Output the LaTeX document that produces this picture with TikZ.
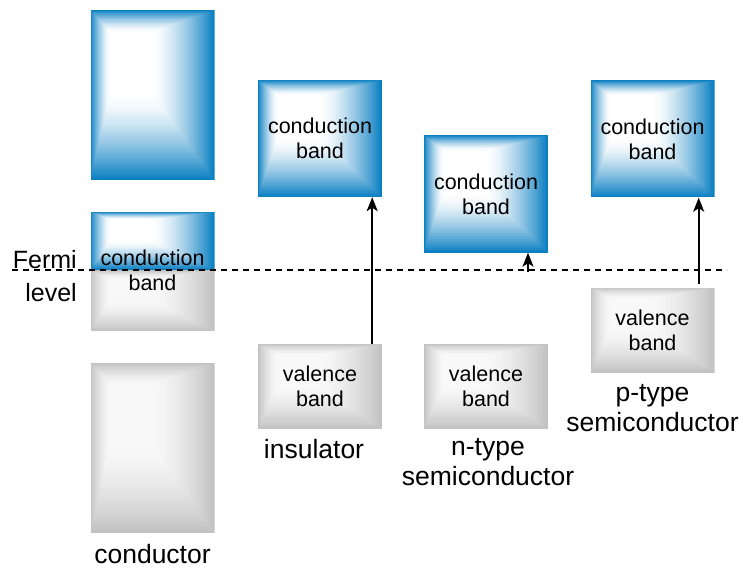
\documentclass[tikz,border=0pt]{standalone}
\usepackage{fontspec}
\setmainfont{Liberation Sans}
\usepackage{tikz}
\usetikzlibrary{positioning,arrows.meta,calc}
\usepackage{xcolor}
\definecolor{bandblue}{HTML}{0A7FC2}
\definecolor{bandgray}{HTML}{C2C2C2}
\definecolor{bandlight}{HTML}{F8F8F8}

% nested rectangles, dark at the rim, light towards the upper left
\newcommand\bandshade[2]{%
  \foreach \k in {0,...,40}{%
    \pgfmathtruncatemacro\pct{100*(1-\k/40)*sqrt(1-\k/40)}
    \fill[#1!\pct!#2] let \p1=(path picture bounding box.north west),
      \p2=(path picture bounding box.south east) in
      ({\x1+0.16*\k/40*(\x2-\x1)}, {\y1-0.13*\k/40*(\y1-\y2)}) rectangle
      ({\x2-0.5*\k/40*(\x2-\x1)}, {\y2+0.5*\k/40*(\y1-\y2)});
  }}

\begin{document}
\begin{tikzpicture}[x=1pt, y=-1pt,
    cband/.style={rectangle, inner sep=0pt, minimum width=124pt, minimum height=117pt, align=center, font=\fontsize{21.5}{25}\selectfont, path picture={\bandshade{bandblue}{white}}},
    vband/.style={rectangle, inner sep=0pt, minimum width=124pt, minimum height=85pt, align=center, font=\fontsize{21.5}{25}\selectfont, path picture={\bandshade{bandgray}{bandlight}}},
    bandtxt/.style={inner sep=0pt, align=center, font=\fontsize{21.5}{25}\selectfont},
    lbl/.style={inner sep=0pt, align=center, anchor=base, font=\fontsize{26.5}{30}\selectfont},
    fermi/.style={dash pattern=on 6pt off 5pt, line width=1.2pt},
    jump/.style={-{Stealth[length=14pt, width=11pt, inset=3.5pt]}, line width=1.8pt}
]
    \useasboundingbox (0,0) rectangle (743,569);

    % conductor
    \node[cband, minimum height=170pt] (cond-top) at (152.5, 95) {};
    \node[cband, minimum height=58pt] (cond-cbup) at (152.5, 241) {};
    \node[vband, minimum height=61pt, below=0pt of cond-cbup] (cond-cblow) {};
    \node[bandtxt] (cond-cbtxt) at (cond-cbup.south) {conduction\\band};
    \node[vband, minimum height=170pt] (cond-vb) at (152.5, 448) {};
    \node[lbl] (cond-lbl) at ([yshift=-30pt]cond-vb.south) {conductor};

    % insulator
    \node[cband] (ins-cb) at (320, 138.5) {conduction\\band};
    \node[vband] (ins-vb) at (320, 386.5) {valence\\band};
    \node[lbl] (ins-lbl) at ([xshift=-6pt, yshift=-29pt]ins-vb.south) {insulator};

    % n-type (base = last line)
    \node[cband] (n-cb) at (486, 194) {conduction\\band};
    \node[vband] (n-vb) at (486, 386.5) {valence\\band};
    \node[lbl] (n-lbl) at ([xshift=2pt, yshift=-56pt]n-vb.south) {n-type\\semiconductor};

    % p-type
    \node[cband] (p-cb) at (652.5, 139) {conduction\\band};
    \node[vband] (p-vb) at (652.5, 330) {valence\\band};
    \node[lbl] (p-lbl) at ([yshift=-59pt]p-vb.south) {p-type\\semiconductor};

    % Fermi level
    \coordinate (fermi-l) at (12, 270);
    \coordinate (fermi-r) at (727, 270);
    \draw[fermi] (fermi-l) -- (fermi-r);
    \node[inner sep=0pt, align=right, anchor=base east, font=\fontsize{25}{33}\selectfont] (fermi-lbl) at (77, 301) {Fermi\\level};

    % excitation arrows
    \coordinate (n-tail) at (528, 272);
    \draw[jump] ([xshift=-10pt]ins-vb.north east) -- ([xshift=-10pt]ins-cb.south east);
    \draw[jump] (n-tail) -- (n-tail |- n-cb.south);
    \draw[jump, shorten <=3pt] ([xshift=-16pt]p-vb.north east) -- ([xshift=-16pt]p-cb.south east);
\end{tikzpicture}
\end{document}
